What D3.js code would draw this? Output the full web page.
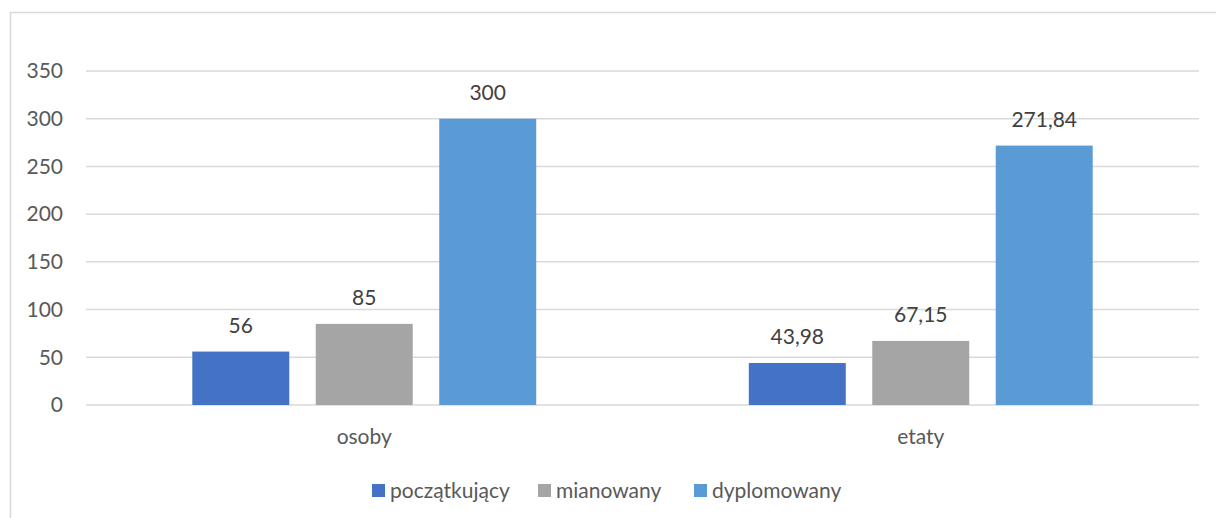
<!DOCTYPE html>
<html>
<head>
<meta charset="utf-8">
<script src="https://cdn.jsdelivr.net/npm/d3@7"></script>
<style>
  body { margin: 0; background: #fff; }
  svg text { font-family: Lato, "Open Sans", sans-serif; }
</style>
</head>
<body>
<svg width="1216" height="518"></svg>
<script>
// chart values
var categories = ["osoby", "etaty"];
var seriesNames = ["początkujący", "mianowany", "dyplomowany"];
var poczatkujacy = [56, 43.98];
var mianowany = [85, 67.15];
var dyplomowany = [300, 271.84];
var yTicks = [0, 50, 100, 150, 200, 250, 300, 350];

var colors = ["#4472C4", "#A5A5A5", "#5B9BD5"];
var seriesValues = [poczatkujacy, mianowany, dyplomowany];

var svg = d3.select("svg");

// outer frame (cropped at right and bottom)
svg.append("rect")
    .attr("x", 10.5)
    .attr("y", 12.5)
    .attr("width", 1300)
    .attr("height", 600)
    .attr("fill", "none")
    .attr("stroke", "#D9D9D9")
    .attr("stroke-width", 1.5);

var plotLeft = 86, plotRight = 1199, plotTop = 71, plotBottom = 405;
var fs = 21;

var y = d3.scaleLinear().domain([0, 350]).range([plotBottom, plotTop]);

var x0 = d3.scaleBand()
    .domain(categories)
    .range([plotLeft, plotRight])
    .paddingInner(0.382)
    .paddingOuter(0.191);

var x1 = d3.scaleBand()
    .domain(seriesNames)
    .range([0, x0.bandwidth()])
    .paddingInner(0.2146);

// gridlines
svg.append("g")
    .selectAll("line")
    .data(yTicks)
    .enter()
    .append("line")
    .attr("x1", plotLeft)
    .attr("x2", plotRight)
    .attr("y1", function(d) { return y(d); })
    .attr("y2", function(d) { return y(d); })
    .attr("stroke", "#D9D9D9")
    .attr("stroke-width", 1.5);

// y tick labels
svg.append("g")
    .selectAll("text")
    .data(yTicks)
    .enter()
    .append("text")
    .attr("x", 63)
    .attr("y", function(d) { return y(d); })
    .attr("dy", "0.35em")
    .attr("text-anchor", "end")
    .attr("font-size", fs)
    .attr("fill", "#595959")
    .text(function(d) { return d; });

// bars
var flat = [];
categories.forEach(function(c, ci) {
    seriesNames.forEach(function(s, si) {
        flat.push({ cat: c, series: s, si: si, value: seriesValues[si][ci] });
    });
});

var fmt = function(v) { return String(v).replace(".", ","); };

var bars = svg.append("g");
bars.selectAll("rect")
    .data(flat)
    .enter()
    .append("rect")
    .attr("x", function(d) { return x0(d.cat) + x1(d.series); })
    .attr("y", function(d) { return y(d.value); })
    .attr("width", x1.bandwidth())
    .attr("height", function(d) { return y(0) - y(d.value); })
    .attr("fill", function(d) { return colors[d.si]; });

// value labels
bars.selectAll("text")
    .data(flat)
    .enter()
    .append("text")
    .attr("x", function(d) { return x0(d.cat) + x1(d.series) + x1.bandwidth() / 2; })
    .attr("y", function(d) { return y(d.value) - 26; })
    .attr("dy", "0.35em")
    .attr("text-anchor", "middle")
    .attr("font-size", fs)
    .attr("fill", "#404040")
    .text(function(d) { return fmt(d.value); });

// category labels
svg.append("g")
    .selectAll("text")
    .data(categories)
    .enter()
    .append("text")
    .attr("x", function(d) { return x0(d) + x0.bandwidth() / 2; })
    .attr("y", 437)
    .attr("dy", "0.35em")
    .attr("text-anchor", "middle")
    .attr("font-size", fs)
    .attr("fill", "#595959")
    .text(function(d) { return d; });

// legend
var legendX = [372, 538, 694];
var legend = svg.append("g")
    .selectAll("g")
    .data(seriesNames)
    .enter()
    .append("g")
    .attr("transform", function(d, i) { return "translate(" + legendX[i] + ",484)"; });

legend.append("rect")
    .attr("width", 13)
    .attr("height", 13)
    .attr("fill", function(d, i) { return colors[i]; });

legend.append("text")
    .attr("x", 18)
    .attr("y", 7)
    .attr("dy", "0.35em")
    .attr("font-size", fs)
    .attr("fill", "#595959")
    .text(function(d) { return d; });
</script>
</body>
</html>
